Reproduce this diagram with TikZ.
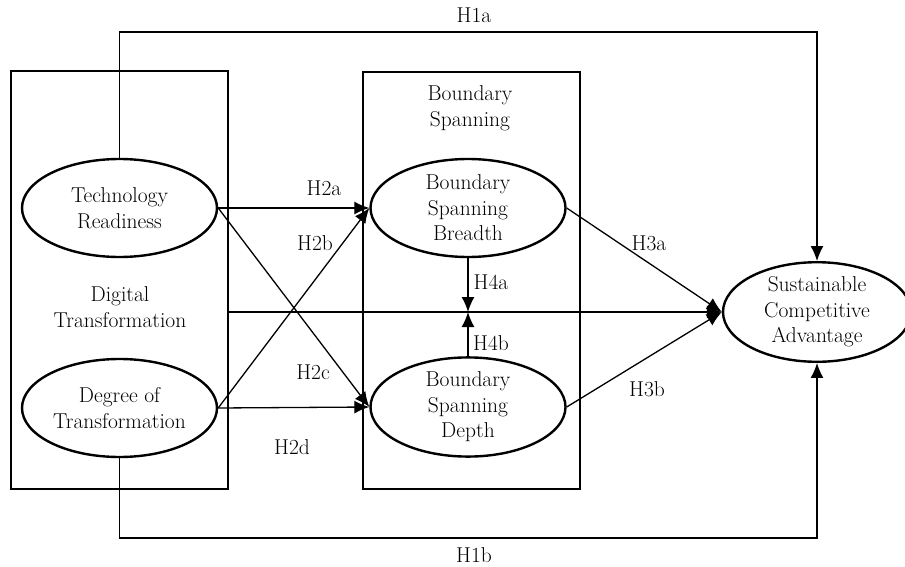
\documentclass[tikz,border=0pt]{standalone}
\usepackage{tikz}
\usetikzlibrary{arrows.meta,shapes.geometric}

\begin{document}
\begin{tikzpicture}[x=1pt,y=-1pt,
  font=\fontsize{21.5}{25.5}\selectfont,
  latent/.style={draw,ellipse,line width=2.4pt,minimum width=195pt,minimum height=98pt,inner sep=0pt,align=center},
  block/.style={draw,line width=2.4pt,inner sep=0pt},
  path/.style={line width=1.3pt,-{Latex[length=15pt,width=13pt]}},
  hyp/.style={inner sep=0pt}]
\useasboundingbox (0,0) rectangle (905,567);

\node[block,minimum width=217pt,minimum height=418pt] (dtbox) at (119.5,280) {};
\node[block,minimum width=217pt,minimum height=417pt] (bsbox) at (471.5,280.5) {};

\node[latent] (tr) at (119.5,208) {Technology\\Readiness};
\node[latent] (dot) at (119.5,408) {Degree of\\Transformation};
\node[latent] (bsb) at (468,208) {Boundary\\Spanning\\Breadth};
\node[latent] (bsd) at (468,407) {Boundary\\Spanning\\Depth};
\node[latent,minimum width=188pt] (sca) at (817,312) {Sustainable\\Competitive\\Advantage};

\node[align=center] (dtlab) at (120,307) {Digital\\Transformation};
\node[align=center] (bslab) at (470,108) {Boundary\\Spanning};

\coordinate (meet) at (bsb.south |- sca.west);

\draw[path] (tr.north) -- (tr.north |- 0,32) -| (sca.north);
\draw[path] (dot.south) -- (dot.south |- 0,538) -| (sca.south);

\draw[path] (tr.east) -- (bsb.west);
\draw[path] (dot.east) -- (bsb.west);
\draw[path] (tr.east) -- (bsd.west);
\draw[path] (dot.east) -- (bsd.west);

\draw[path] (dtbox.east |- sca.west) -- (sca.west);
\draw[path] (bsb.east) -- (sca.west);
\draw[path] (bsd.east) -- (sca.west);

\draw[path] (bsb.south) -- (meet);
\draw[path] (bsd.north) -- (meet);

\node[hyp] (h1a) at (474,15) {H1a};
\node[hyp] (h1b) at (474,555) {H1b};
\node[hyp] (h2a) at (324,188) {H2a};
\node[hyp] (h2b) at (315,243) {H2b};
\node[hyp] (h2c) at (313,372) {H2c};
\node[hyp] (h2d) at (292,447) {H2d};
\node[hyp] (h3a) at (649,243) {H3a};
\node[hyp] (h3b) at (647,389) {H3b};
\node[hyp] (h4a) at (491,282) {H4a};
\node[hyp] (h4b) at (491,343) {H4b};
\end{tikzpicture}
\end{document}
